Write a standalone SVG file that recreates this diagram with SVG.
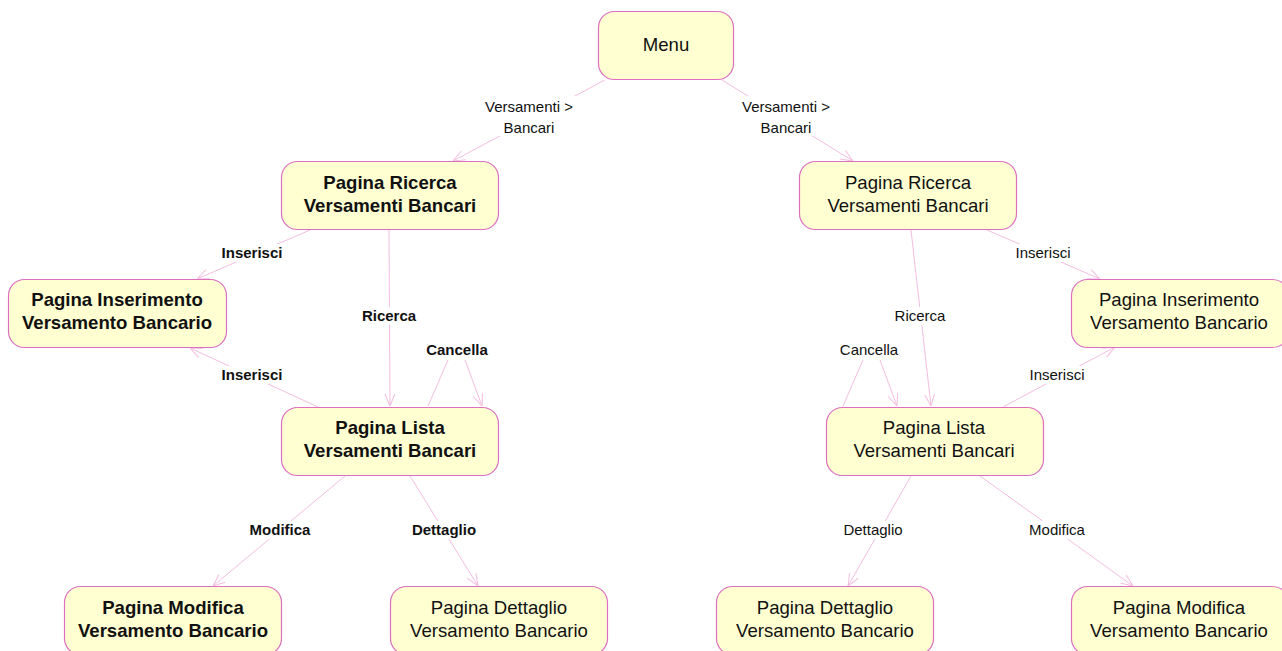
<svg xmlns="http://www.w3.org/2000/svg" width="1282" height="651" viewBox="0 0 1282 651">
<style>
.n rect{fill:#ffffd2;stroke:#dd6fc0;stroke-width:1.2}
.n text{font-family:"Liberation Sans",Arial,sans-serif;font-size:18.6px;fill:#111;text-anchor:middle}
.b text{font-weight:bold}
.e line{stroke:#f4bde0;stroke-width:1;fill:none}
.e polyline{stroke:#f4bde0;stroke-width:1;fill:none}
.l{font-family:"Liberation Sans",Arial,sans-serif;font-size:15px;fill:#111;text-anchor:middle}
.lb{font-weight:bold}
</style>
<defs>
<marker id="a" viewBox="0 0 12 12" refX="12" refY="6" markerWidth="12" markerHeight="12" markerUnits="userSpaceOnUse" orient="auto">
<path d="M0,1 L12,6 L0,11" fill="none" stroke="#f4bde0" stroke-width="1"/>
</marker>
</defs>
<rect width="1282" height="651" fill="#fff"/>
<g id="connectors" class="e">
<line x1="605" y1="80" x2="453" y2="161" marker-end="url(#a)"/>
<line x1="722" y1="80" x2="853" y2="161" marker-end="url(#a)"/>
<line x1="310" y1="230" x2="197" y2="279" marker-end="url(#a)"/>
<line x1="318" y1="407" x2="190" y2="348" marker-end="url(#a)"/>
<line x1="389" y1="230" x2="390" y2="406" marker-end="url(#a)"/>
<polyline points="428,406 448,360"/>
<line x1="465" y1="360" x2="482" y2="406" marker-end="url(#a)"/>
<line x1="345" y1="476" x2="213" y2="586" marker-end="url(#a)"/>
<line x1="410" y1="476" x2="478" y2="586" marker-end="url(#a)"/>
<line x1="911" y1="230" x2="931" y2="406" marker-end="url(#a)"/>
<polyline points="843,406 863,360"/>
<line x1="880" y1="360" x2="897" y2="406" marker-end="url(#a)"/>
<line x1="987" y1="230" x2="1100" y2="279" marker-end="url(#a)"/>
<line x1="1003" y1="407" x2="1115" y2="347" marker-end="url(#a)"/>
<line x1="911" y1="476" x2="848" y2="586" marker-end="url(#a)"/>
<line x1="980" y1="476" x2="1133" y2="586" marker-end="url(#a)"/>
</g>
<g id="edge-labels">
<rect x="478" y="96" width="102" height="40" fill="#fff"/>
<text class="l" x="529" y="112">Versamenti &gt;</text>
<text class="l" x="529" y="133">Bancari</text>
<rect x="735" y="96" width="102" height="40" fill="#fff"/>
<text class="l" x="786" y="112">Versamenti &gt;</text>
<text class="l" x="786" y="133">Bancari</text>
<rect x="216" y="244" width="72" height="18" fill="#fff"/>
<text class="l lb" x="252" y="258">Inserisci</text>
<rect x="216" y="366" width="72" height="18" fill="#fff"/>
<text class="l lb" x="252" y="380">Inserisci</text>
<rect x="356" y="307" width="66" height="18" fill="#fff"/>
<text class="l lb" x="389" y="321">Ricerca</text>
<text class="l lb" x="457" y="355">Cancella</text>
<rect x="242" y="521" width="76" height="18" fill="#fff"/>
<text class="l lb" x="280" y="535">Modifica</text>
<rect x="405" y="521" width="78" height="18" fill="#fff"/>
<text class="l lb" x="444" y="535">Dettaglio</text>
<rect x="888" y="307" width="64" height="18" fill="#fff"/>
<text class="l" x="920" y="321">Ricerca</text>
<text class="l" x="869" y="355">Cancella</text>
<rect x="1010" y="244" width="66" height="18" fill="#fff"/>
<text class="l" x="1043" y="258">Inserisci</text>
<rect x="1024" y="366" width="66" height="18" fill="#fff"/>
<text class="l" x="1057" y="380">Inserisci</text>
<rect x="838" y="521" width="70" height="18" fill="#fff"/>
<text class="l" x="873" y="535">Dettaglio</text>
<rect x="1023" y="521" width="68" height="18" fill="#fff"/>
<text class="l" x="1057" y="535">Modifica</text>
</g>
<g id="menu" class="n"><rect x="598.5" y="11.5" width="135" height="68" rx="16"/><text x="666" y="51">Menu</text></g>
<g id="ricerca-l" class="n b"><rect x="281.5" y="161.5" width="217" height="68" rx="16"/><text x="390" y="189">Pagina Ricerca</text><text x="390" y="212">Versamenti Bancari</text></g>
<g id="inserimento-l" class="n b"><rect x="8.5" y="279.5" width="218" height="68" rx="16"/><text x="117" y="306">Pagina Inserimento</text><text x="117" y="329">Versamento Bancario</text></g>
<g id="lista-l" class="n b"><rect x="281.5" y="407.5" width="217" height="68" rx="16"/><text x="390" y="434">Pagina Lista</text><text x="390" y="457">Versamenti Bancari</text></g>
<g id="modifica-l" class="n b"><rect x="64.5" y="586.5" width="217" height="68" rx="16"/><text x="173" y="614">Pagina Modifica</text><text x="173" y="637">Versamento Bancario</text></g>
<g id="dettaglio-l" class="n"><rect x="390.5" y="586.5" width="217" height="68" rx="16"/><text x="499" y="614">Pagina Dettaglio</text><text x="499" y="637">Versamento Bancario</text></g>
<g id="ricerca-r" class="n"><rect x="799.5" y="161.5" width="217" height="68" rx="16"/><text x="908" y="189">Pagina Ricerca</text><text x="908" y="212">Versamenti Bancari</text></g>
<g id="inserimento-r" class="n"><rect x="1071.5" y="279.5" width="217" height="68" rx="16"/><text x="1179" y="306">Pagina Inserimento</text><text x="1179" y="329">Versamento Bancario</text></g>
<g id="lista-r" class="n"><rect x="826.5" y="407.5" width="217" height="68" rx="16"/><text x="934" y="434">Pagina Lista</text><text x="934" y="457">Versamenti Bancari</text></g>
<g id="dettaglio-r" class="n"><rect x="716.5" y="586.5" width="217" height="68" rx="16"/><text x="825" y="614">Pagina Dettaglio</text><text x="825" y="637">Versamento Bancario</text></g>
<g id="modifica-r" class="n"><rect x="1071.5" y="586.5" width="217" height="68" rx="16"/><text x="1179" y="614">Pagina Modifica</text><text x="1179" y="637">Versamento Bancario</text></g>
</svg>
